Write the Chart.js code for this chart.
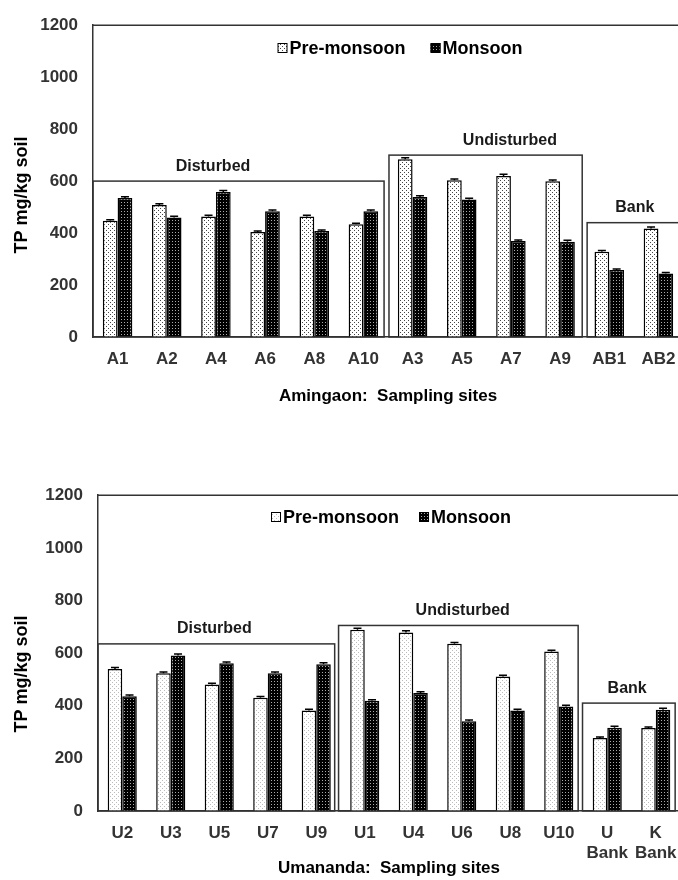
<!DOCTYPE html>
<html>
<head>
<meta charset="utf-8">
<script src="https://cdn.jsdelivr.net/npm/chart.js@4/dist/chart.umd.min.js"></script>
<style>
  html, body { margin: 0; padding: 0; background: #fff; width: 678px; height: 880px; overflow: hidden; }
  .holder { position: absolute; left: 0; width: 690px; }
  #top { top: 0; height: 420px; }
  #bottom { top: 470px; height: 410px; }
</style>
</head>
<body>
<div class="holder" id="top"><canvas id="chartA"></canvas></div>
<div class="holder" id="bottom"><canvas id="chartU"></canvas></div>
<script>
// Amingaon
const aminSites = ['A1', 'A2', 'A4', 'A6', 'A8', 'A10', 'A3', 'A5', 'A7', 'A9', 'AB1', 'AB2'];
const aminPre = [447, 508, 464, 404, 464, 434, 684, 603, 620, 599, 328, 418];
const aminMon = [535, 460, 558, 484, 408, 484, 539, 529, 369, 367, 258, 244];
const aminPreErr = [4, 5, 5, 4, 5, 4, 6, 5, 6, 5, 5, 5];
const aminMonErr = [5, 5, 6, 5, 4, 5, 5, 5, 4, 5, 4, 4];
const aminGroupLevels = [600, 700, 440];

// Umananda
const umanSites = ['U2', 'U3', 'U5', 'U7', 'U9', 'U1', 'U4', 'U6', 'U8', 'U10', ['U', 'Bank'], ['K', 'Bank']];
const umanPre = [540, 523, 481, 430, 382, 689, 678, 636, 511, 606, 277, 315];
const umanMon = [436, 591, 561, 523, 558, 419, 448, 341, 382, 397, 316, 385];
const umanPreErr = [5, 5, 4, 5, 5, 5, 7, 4, 5, 5, 4, 4];
const umanMonErr = [5, 6, 5, 5, 5, 4, 5, 5, 5, 5, 6, 5];
const umanGroupLevels = [635, 705, 410];

const groupNames = ['Disturbed', 'Undisturbed', 'Bank'];
const seriesNames = ['Pre-monsoon', 'Monsoon'];
const yTicks = [0, 200, 400, 600, 800, 1000, 1200];

const FONT = 'Arial, "Liberation Sans", sans-serif';
Chart.defaults.font.family = FONT;

function makePattern(size, bg, dots, dotColor) {
    const c = document.createElement('canvas');
    c.width = c.height = size;
    const g = c.getContext('2d');
    g.fillStyle = bg;
    g.fillRect(0, 0, size, size);
    g.fillStyle = dotColor;
    dots.forEach(d => g.fillRect(d[0], d[1], 1, 1));
    return g.createPattern(c, 'repeat');
}

const dotsDark = makePattern(4, '#fff', [[0, 0], [2, 2]], '#444');
const dotsLight = makePattern(4, '#fff', [[0, 0], [2, 2]], '#bbb');
const darkGrid = makePattern(3, '#000', [[1, 1]], '#aaa');

// group boxes, error caps, legend and y title drawn on top of the bars
const extrasPlugin = {
    id: 'extras',
    afterDatasetsDraw(chart, args, opts) {
        const { ctx, chartArea: a, scales: { x, y } } = chart;
        ctx.save();

        // error caps
        ctx.strokeStyle = '#000';
        ctx.lineWidth = 1.5;
        chart.data.datasets.forEach((ds, di) => {
            chart.getDatasetMeta(di).data.forEach((bar, i) => {
                const top = y.getPixelForValue(ds.data[i] + ds.errors[i]);
                ctx.beginPath();
                ctx.moveTo(bar.x, bar.y);
                ctx.lineTo(bar.x, top);
                ctx.moveTo(bar.x - 4, top);
                ctx.lineTo(bar.x + 4, top);
                ctx.stroke();
            });
        });

        // frame top + right
        ctx.strokeStyle = '#333';
        ctx.beginPath();
        ctx.moveTo(a.left, a.top);
        ctx.lineTo(a.right, a.top);
        ctx.lineTo(a.right, a.bottom);
        ctx.stroke();

        // group boxes
        ctx.font = 'bold 16px ' + FONT;
        ctx.textAlign = 'center';
        ctx.textBaseline = 'middle';
        opts.groups.forEach((g, gi) => {
            const left = g.from === null ? a.left : x.getPixelForValue(g.from);
            const right = x.getPixelForValue(g.to);
            const top = y.getPixelForValue(opts.levels[gi]);
            ctx.strokeStyle = '#333';
            ctx.strokeRect(left, top, right - left, a.bottom - top);
            ctx.fillStyle = '#1a1a1a';
            ctx.fillText(groupNames[gi], x.getPixelForValue(g.labelAt), top - 15);
        });

        // legend
        ctx.font = 'bold 18px ' + FONT;
        ctx.textAlign = 'left';
        const items = chart.data.datasets.map(ds => ({ ds, w: ctx.measureText(ds.label).width }));
        const total = items.reduce((s, it) => s + 12 + it.w, 0) + opts.legendGap;
        let lx = opts.legendCenter - total / 2;
        items.forEach(it => {
            ctx.fillStyle = it.ds.backgroundColor;
            ctx.fillRect(lx, opts.legendY - 5, 10, 10);
            ctx.strokeStyle = '#000';
            ctx.lineWidth = 1;
            ctx.strokeRect(lx + 0.5, opts.legendY - 4.5, 9, 9);
            ctx.fillStyle = '#000';
            ctx.fillText(it.ds.label, lx + 12, opts.legendY + 1);
            lx += 12 + it.w + opts.legendGap;
        });

        // y title
        ctx.translate(22, opts.yTitleY);
        ctx.rotate(-Math.PI / 2);
        ctx.textAlign = 'center';
        ctx.font = 'bold 18px ' + FONT;
        ctx.fillStyle = '#000';
        ctx.fillText('TP mg/kg soil', 0, 0);
        ctx.restore();
    }
};

function buildChart(id, sites, pre, mon, preErr, monErr, prePattern, levels, cfg) {
    return new Chart(document.getElementById(id), {
        type: 'bar',
        data: {
            labels: sites,
            datasets: [
                { label: seriesNames[0], data: pre, errors: preErr, backgroundColor: prePattern,
                  borderColor: '#000', borderWidth: 1.5 },
                { label: seriesNames[1], data: mon, errors: monErr, backgroundColor: darkGrid,
                  borderColor: '#000', borderWidth: 1.5 }
            ]
        },
        options: {
            responsive: true,
            maintainAspectRatio: false,
            animation: false,
            devicePixelRatio: 1,
            layout: { padding: { top: 24, left: 0, right: cfg.padRight, bottom: cfg.padBottom } },
            datasets: { bar: { categoryPercentage: 0.6, barPercentage: 1.0 } },
            scales: {
                x: {
                    grid: { display: false, drawTicks: false },
                    border: { display: true, color: '#333', width: 1.5 },
                    ticks: { font: { size: 17, weight: 'bold' }, color: '#333', padding: 12,
                             autoSkip: false, maxRotation: 0 },
                    title: { display: true, text: cfg.xTitle, font: { size: 17, weight: 'bold' },
                             color: '#000', padding: 0 },
                    afterFit: s => { s.height = cfg.xHeight; }
                },
                y: {
                    min: 0, max: 1200,
                    afterBuildTicks: s => { s.ticks = yTicks.map(v => ({ value: v })); },
                    grid: { display: false, drawTicks: false },
                    border: { display: true, color: '#333', width: 1.5 },
                    ticks: { font: { size: 17, weight: 'bold' }, color: '#333', padding: 15,
                             callback: v => String(v) },
                    afterFit: s => { s.width = cfg.yWidth; }
                }
            },
            plugins: {
                legend: { display: false },
                tooltip: { enabled: false },
                extras: {
                    groups: cfg.groups,
                    levels: levels,
                    legendCenter: cfg.legendCenter,
                    legendY: cfg.legendY,
                    legendGap: cfg.legendGap,
                    yTitleY: cfg.yTitleY
                }
            }
        },
        plugins: [extrasPlugin]
    });
}

buildChart('chartA', aminSites, aminPre, aminMon, aminPreErr, aminMonErr, dotsDark, aminGroupLevels, {
    padRight: 7, padBottom: 13, xHeight: 70, yWidth: 93,
    xTitle: 'Amingaon:  Sampling sites',
    groups: [
        { from: null, to: 5.42, labelAt: 1.94 },
        { from: 5.52, to: 9.45, labelAt: 7.98 },
        { from: 9.55, to: 11.48, labelAt: 10.52 }
    ],
    legendCenter: 400, legendY: 48, legendGap: 25, yTitleY: 195
});

buildChart('chartU', umanSites, umanPre, umanMon, umanPreErr, umanMonErr, dotsLight, umanGroupLevels, {
    padRight: 10, padBottom: 1, xHeight: 68, yWidth: 98,
    xTitle: 'Umananda:  Sampling sites',
    groups: [
        { from: null, to: 4.38, labelAt: 1.9 },
        { from: 4.46, to: 9.4, labelAt: 7.02 },
        { from: 9.49, to: 11.4, labelAt: 10.41 }
    ],
    legendCenter: 391, legendY: 47, legendGap: 20, yTitleY: 204
});
</script>
</body>
</html>
